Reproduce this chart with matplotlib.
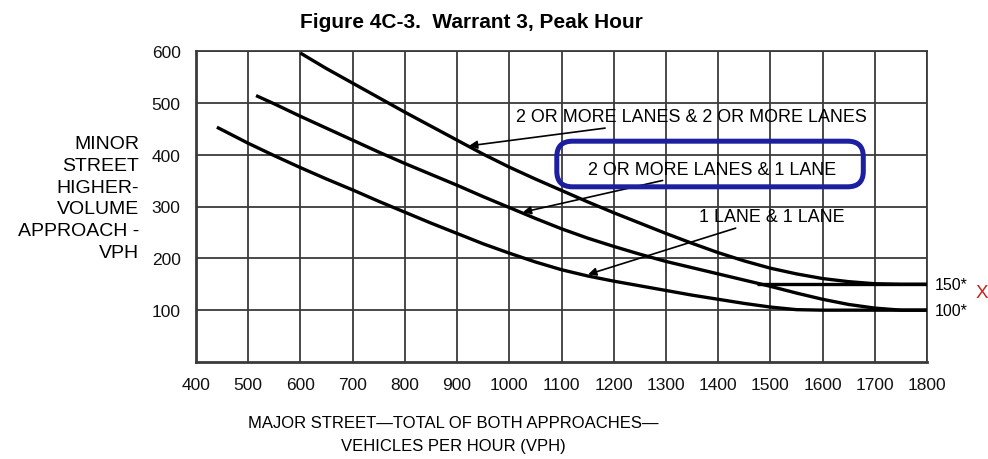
import matplotlib
matplotlib.use("Agg")
import matplotlib.pyplot as plt
from matplotlib.patches import FancyBboxPatch
from matplotlib import font_manager

# curve readings (major street vph -> minor street vph)
two_two_x = [600, 650, 700, 750, 800, 850, 900, 950, 1000, 1050, 1100, 1150, 1200,
             1250, 1300, 1350, 1400, 1450, 1500, 1550, 1600, 1650, 1700, 1750, 1800]
two_two_y = [596, 566, 538, 510, 482, 455, 428, 401, 376, 353, 331, 309, 288,
             268, 248, 229, 211, 195, 181, 170, 161, 155, 151, 150, 150]

two_one_x = [515, 550, 600, 650, 700, 750, 800, 850, 900, 950, 1000, 1050, 1100,
             1150, 1200, 1250, 1300, 1350, 1400, 1450, 1500, 1550, 1600, 1650, 1700,
             1750, 1800]
two_one_y = [514, 498, 474, 451, 428, 405, 383, 362, 341, 319, 298, 277, 257,
             239, 223, 208, 194, 182, 170, 158, 146, 133, 121, 111, 104, 100, 100]

one_one_x = [440, 500, 550, 600, 650, 700, 750, 800, 850, 900, 950, 1000, 1050,
             1100, 1150, 1200, 1250, 1300, 1350, 1400, 1450, 1500, 1550, 1600, 1800]
one_one_y = [453, 422, 398, 375, 353, 332, 310, 289, 268, 248, 228, 210, 193,
             178, 166, 156, 147, 138, 129, 121, 113, 106, 101, 100, 100]

floor_150_x = [1475, 1800]
floor_150_y = [150, 150]

x_ticks = list(range(400, 1801, 100))
y_ticks = [100, 200, 300, 400, 500, 600]

available = {f.name for f in font_manager.fontManager.ttflist}
narrow = "Liberation Sans Narrow" if "Liberation Sans Narrow" in available else "Liberation Sans"
plt.rcParams["font.family"] = ["Liberation Sans", "DejaVu Sans"]

fig = plt.figure(figsize=(9.88, 4.6), dpi=100)
ax = fig.add_axes([196 / 988, 97 / 460, 731 / 988, 311 / 460])

grid_c = "#3a3a3a"
ax.set_xlim(400, 1800)
ax.set_ylim(0, 600)
ax.set_xticks(x_ticks)
ax.set_yticks(y_ticks)
ax.grid(True, color=grid_c, lw=1.3)
ax.set_axisbelow(True)
for side, sp in ax.spines.items():
    sp.set_color(grid_c)
    sp.set_linewidth(2.0 if side in ("left", "bottom") else 1.3)
ax.tick_params(length=0, labelsize=12.5, pad=11, colors="#111111")

for xs, ys in [(two_two_x, two_two_y), (two_one_x, two_one_y),
               (one_one_x, one_one_y), (floor_150_x, floor_150_y)]:
    ax.plot(xs, ys, color="black", lw=2.4, solid_capstyle="butt",
            solid_joinstyle="round", zorder=3)

arrow = dict(arrowstyle="-|>", color="black", lw=1.2, mutation_scale=12,
             shrinkA=0, shrinkB=0)
ax.annotate("2 OR MORE LANES & 2 OR MORE LANES", xy=(923, 417), xytext=(1013, 473),
            fontsize=12.9, ha="left", va="center", arrowprops=arrow, zorder=4)
ax.annotate("2 OR MORE LANES & 1 LANE", xy=(1026, 289), xytext=(1151, 372),
            fontsize=12.9, ha="left", va="center", arrowprops=arrow, zorder=4)
ax.annotate("1 LANE & 1 LANE", xy=(1151, 169), xytext=(1363, 280),
            fontsize=12.9, ha="left", va="center", arrowprops=arrow, zorder=4)

box = FancyBboxPatch((1091, 338), 587, 88,
                     boxstyle="round,pad=0,rounding_size=30",
                     fill=False, ec="#1c1fa0", lw=3.6, zorder=5, clip_on=False)
ax.add_patch(box)

ax.text(1815, 150, "150*", fontsize=11.5, ha="left", va="center", clip_on=False)
ax.text(1815, 100, "100*", fontsize=11.5, ha="left", va="center", clip_on=False)
fig.text(982 / 988, 1 - 293 / 460, "X", color="#cc2020", fontsize=13.5,
         ha="center", va="center")

fig.text(471 / 988, 1 - 22 / 460, "Figure 4C-3.  Warrant 3, Peak Hour",
         family=[narrow, "DejaVu Sans"], fontweight="bold", fontsize=15,
         ha="center", va="center")
fig.text(139 / 988, 1 - 199 / 460,
         "MINOR\nSTREET\nHIGHER-\nVOLUME\nAPPROACH -\nVPH",
         fontsize=14, ha="right", va="center", multialignment="right",
         linespacing=1.36)
fig.text(453 / 988, 1 - 435 / 460,
         "MAJOR STREET\u2014TOTAL OF BOTH APPROACHES\u2014\nVEHICLES PER HOUR (VPH)",
         family=[narrow, "DejaVu Sans"], fontsize=12, ha="center", va="center",
         linespacing=1.7)

fig.savefig("out.png", dpi=100)
